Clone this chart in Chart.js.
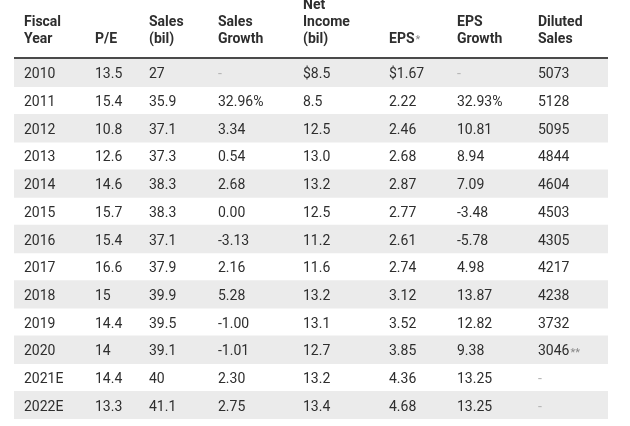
<!DOCTYPE html>
<html>
<head>
<meta charset="utf-8">
<script src="https://cdn.jsdelivr.net/npm/chart.js@4.4.1/dist/chart.umd.min.js"></script>
<style>
    html, body { margin: 0; padding: 0; background: #ffffff; }
    #wrap { position: relative; width: 630px; height: 426px; }
</style>
</head>
<body>
<div id="wrap"><canvas id="tablaChart"></canvas></div>
<script>
const years = ["2010", "2011", "2012", "2013", "2014", "2015", "2016", "2017", "2018", "2019", "2020", "2021E", "2022E"];
const pe = ["13.5", "15.4", "10.8", "12.6", "14.6", "15.7", "15.4", "16.6", "15", "14.4", "14", "14.4", "13.3"];
const sales = ["27", "35.9", "37.1", "37.3", "38.3", "38.3", "37.1", "37.9", "39.9", "39.5", "39.1", "40", "41.1"];
const salesGrowth = ["-", "32.96%", "3.34", "0.54", "2.68", "0.00", "-3.13", "2.16", "5.28", "-1.00", "-1.01", "2.30", "2.75"];
const netIncome = ["$8.5", "8.5", "12.5", "13.0", "13.2", "12.5", "11.2", "11.6", "13.2", "13.1", "12.7", "13.2", "13.4"];
const eps = ["$1.67", "2.22", "2.46", "2.68", "2.87", "2.77", "2.61", "2.74", "3.12", "3.52", "3.85", "4.36", "4.68"];
const epsGrowth = ["-", "32.93%", "10.81", "8.94", "7.09", "-3.48", "-5.78", "4.98", "13.87", "12.82", "9.38", "13.25", "13.25"];
const dilutedSales = ["5073", "5128", "5095", "4844", "4604", "4503", "4305", "4217", "4238", "3732", "3046**", "-", "-"];

const headers = [
    ["Fiscal", "Year"],
    ["P/E"],
    ["Sales", "(bil)"],
    ["Sales", "Growth"],
    ["Net", "Income", "(bil)"],
    ["EPS*"],
    ["EPS", "Growth"],
    ["Diluted", "Sales"]
];

const columns = [years, pe, sales, salesGrowth, netIncome, eps, epsGrowth, dilutedSales];

// column text start, in table units (0 = left edge of the table)
const colX = [10, 81, 135, 204, 289, 375, 443, 524];
const tableWidth = 594;

const FONT = "Roboto, 'Noto Sans', sans-serif";
const TEXT = "#2e2e2e";
const MUTED = "#b5b5b5";

// draws text, the trailing "*" marks come out small and grey
function drawCell(ctx, str, x, y, bold) {
    let main = str;
    let mark = "";
    const m = str.match(/^(.*?)(\*+)$/);
    if (m) { main = m[1]; mark = m[2]; }
    if (main === "-") {
        ctx.fillStyle = MUTED;
        ctx.font = (bold ? "bold " : "") + "14px " + FONT;
        ctx.fillText("-", x, y);
        return;
    }
    ctx.fillStyle = TEXT;
    ctx.font = (bold ? "bold " : "") + "14px " + FONT;
    ctx.fillText(main, x, y);
    if (mark) {
        const w = ctx.measureText(main).width;
        ctx.fillStyle = "#8a8a8a";
        ctx.font = "11px " + FONT;
        ctx.fillText(mark, x + w + 1, y + 1);
    }
}

const tablePlugin = {
    id: "tablePlugin",
    afterDatasetsDraw(chart) {
        const ctx = chart.ctx;
        const xs = chart.scales.x;
        const ys = chart.scales.y;
        const area = chart.chartArea;

        ctx.save();
        // header rule
        ctx.strokeStyle = "#4a4a4a";
        ctx.lineWidth = 2;
        ctx.beginPath();
        ctx.moveTo(xs.getPixelForValue(0), area.top - 1);
        ctx.lineTo(xs.getPixelForValue(tableWidth), area.top - 1);
        ctx.stroke();

        ctx.textBaseline = "middle";
        ctx.textAlign = "left";

        headers.forEach(function (lines, c) {
            const x = xs.getPixelForValue(colX[c]);
            const n = lines.length;
            lines.forEach(function (t, k) {
                const y = area.top - 20 - (n - 1 - k) * 17;
                drawCell(ctx, t, x, y, true);
            });
        });

        columns.forEach(function (col, c) {
            const x = xs.getPixelForValue(colX[c]);
            col.forEach(function (v, r) {
                drawCell(ctx, v, x, ys.getPixelForValue(r) + 2, false);
            });
        });
        ctx.restore();
    }
};

document.addEventListener("DOMContentLoaded", function () {
    const canvas = document.getElementById("tablaChart");
    const ctx = canvas.getContext("2d");

    new Chart(ctx, {
        type: "bar",
        data: {
            labels: years,
            datasets: [{
                data: years.map(function () { return tableWidth; }),
                backgroundColor: years.map(function (y, i) { return i % 2 === 0 ? "#ebebeb" : "rgba(0,0,0,0)"; }),
                borderWidth: 0,
                barPercentage: 1,
                categoryPercentage: 1
            }]
        },
        plugins: [tablePlugin],
        options: {
            indexAxis: "y",
            responsive: true,
            maintainAspectRatio: false,
            animation: false,
            layout: {
                padding: { left: 14, right: 22, top: 59, bottom: 7 }
            },
            plugins: {
                legend: { display: false },
                tooltip: { enabled: false }
            },
            scales: {
                x: { display: false, min: 0, max: tableWidth },
                y: { display: false }
            }
        }
    });
});
</script>
</body>
</html>
